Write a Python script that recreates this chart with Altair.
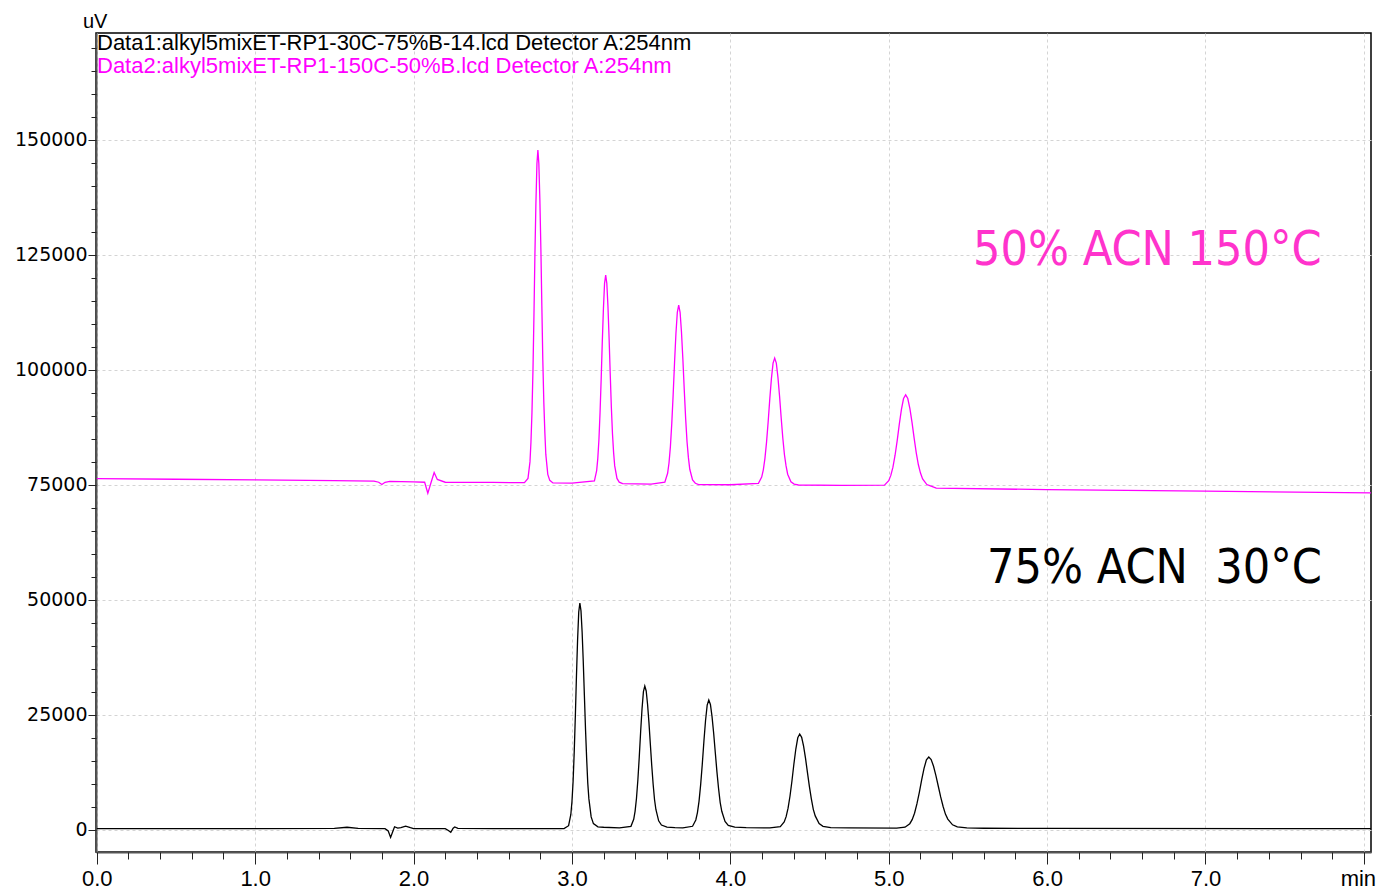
import altair as alt
import pandas as pd

# ---- data ----
# Data2 (magenta, 50% ACN 150 C): time (min), signal (uV)
t_mag = [0.0, 0.5, 1.0, 1.5, 1.75, 1.78, 1.80, 1.82, 1.85, 2.0, 2.07, 2.09, 2.11, 2.13, 2.15, 2.2, 2.5, 2.7,
         # peak 1
         2.7225, 2.735, 2.741, 2.7475, 2.754, 2.76, 2.766, 2.7725, 2.779, 2.785,
         2.791, 2.7975, 2.804, 2.81, 2.816, 2.8225, 2.829, 2.835, 2.8475, 2.86, 2.88, 3.0,
         # peak 2
         3.1418, 3.156, 3.1631, 3.1703, 3.1774, 3.1845, 3.1916, 3.1988, 3.2059, 3.213,
         3.2201, 3.2273, 3.2344, 3.2415, 3.2486, 3.2558, 3.2629, 3.27, 3.2843, 3.2985, 3.32, 3.5,
         # peak 3
         3.5865, 3.604, 3.6128, 3.6215, 3.6303, 3.639, 3.6478, 3.6565, 3.6653, 3.674,
         3.6828, 3.6915, 3.7003, 3.709, 3.7178, 3.7265, 3.7353, 3.744, 3.7615, 3.779, 3.80, 4.0,
         # peak 4
         4.1775, 4.198, 4.2083, 4.2185, 4.2288, 4.239, 4.2493, 4.2595, 4.2698, 4.28,
         4.2903, 4.3005, 4.3108, 4.321, 4.3313, 4.3415, 4.3518, 4.362, 4.3825, 4.403, 4.43, 4.7,
         # peak 5
         4.9733, 5.0, 5.0133, 5.0267, 5.0401, 5.0535, 5.0669, 5.0803, 5.0936, 5.107,
         5.1204, 5.1338, 5.1471, 5.1605, 5.1739, 5.1873, 5.2006, 5.214, 5.2408, 5.2675, 5.30,
         6.0, 7.0, 8.045]
v_mag = [76400, 76250, 76100, 75950, 75850, 75600, 75100, 75600, 75800, 75700, 75600, 73200, 75500, 77700, 76200, 75600, 75550, 75500,
         76440, 80020, 84180, 90680, 100080, 111650, 124660, 136230, 144910, 147800,
         144910, 136960, 126110, 113820, 102250, 92850, 86350, 81650, 77310, 76010, 75450, 75400,
         75890, 78130, 80740, 84820, 90720, 97980, 106140, 113390, 118840, 120650,
         118840, 113850, 107050, 99340, 92080, 86180, 82100, 79150, 76430, 75620, 75300, 75200,
         75610, 77540, 79780, 83290, 88360, 94600, 101620, 107860, 112540, 114100,
         112540, 108250, 102400, 95770, 89530, 84460, 80950, 78420, 76080, 75370, 75100, 75050,
         75360, 76730, 78310, 80800, 84380, 88800, 93770, 98180, 101500, 102600,
         101500, 98460, 94320, 89630, 85210, 81620, 79140, 77350, 75690, 75190, 75000, 74900,
         74960, 75940, 77090, 78880, 81470, 84650, 88230, 91420, 93800, 94600,
         93800, 91600, 88600, 85200, 82000, 79400, 77600, 76300, 75100, 74740, 74300,
         74000, 73650, 73300]

# Data1 (black, 75% ACN 30 C)
t_blk = [0.0, 1.0, 1.5, 1.58, 1.65, 1.82, 1.84, 1.855, 1.87, 1.88, 1.9, 1.92, 1.95, 1.98, 2.0, 2.2, 2.22, 2.235, 2.25, 2.26, 2.28, 2.5, 2.95,
         # peak 1
         2.9788, 2.993, 3.0001, 3.0073, 3.0144, 3.0215, 3.0286, 3.0358, 3.0429, 3.05,
         3.0571, 3.0643, 3.0714, 3.0785, 3.0856, 3.0928, 3.0999, 3.107, 3.1213, 3.1355, 3.164, 3.2, 3.3,
         # peak 2
         3.3725, 3.39, 3.3988, 3.4075, 3.4163, 3.425, 3.4338, 3.4425, 3.4513, 3.46,
         3.4688, 3.4775, 3.4863, 3.495, 3.5038, 3.5125, 3.5213, 3.53, 3.5475, 3.565, 3.60, 3.65, 3.70,
         # peak 3
         3.7615, 3.782, 3.7923, 3.8025, 3.8128, 3.823, 3.8333, 3.8435, 3.8538, 3.864,
         3.8743, 3.8845, 3.8948, 3.905, 3.9153, 3.9255, 3.9358, 3.946, 3.9665, 3.987, 4.028, 4.1, 4.25,
         # peak 4
         4.3155, 4.34, 4.3523, 4.3645, 4.3768, 4.389, 4.4013, 4.4135, 4.4258, 4.438,
         4.4503, 4.4625, 4.4748, 4.487, 4.4993, 4.5115, 4.5238, 4.536, 4.5605, 4.585, 4.634, 4.75, 5.05,
         # peak 5
         5.103, 5.133, 5.148, 5.163, 5.178, 5.193, 5.208, 5.223, 5.238, 5.253,
         5.268, 5.283, 5.298, 5.313, 5.328, 5.343, 5.358, 5.373, 5.403, 5.433, 5.493, 5.6,
         6.0, 8.045]
v_blk = [300, 300, 350, 600, 350, 300, -200, -1600, -200, 700, 400, 500, 850, 500, 300, 300, -100, -500, 400, 650, 350, 300, 300,
         940, 3370, 6190, 10600, 16980, 24830, 33650, 41500, 47390, 49350,
         47640, 42990, 36620, 29280, 21940, 15570, 10190, 6760, 2850, 1380, 690, 600, 450,
         800, 2330, 4110, 6890, 10910, 15850, 21410, 26360, 30060, 31300,
         30220, 27290, 23280, 18650, 14020, 10010, 6620, 4460, 1990, 1070, 640, 500, 450,
         810, 2190, 3790, 6290, 9910, 14360, 19360, 23810, 27150, 28260,
         27290, 24640, 21030, 16860, 12690, 9070, 6010, 4070, 1840, 1010, 620, 500, 450,
         720, 1730, 2900, 4740, 7390, 10660, 14340, 17600, 20050, 20870,
         20150, 18210, 15550, 12480, 9410, 6750, 4490, 3060, 1420, 810, 520, 450, 400,
         600, 1370, 2260, 3650, 5660, 8140, 10920, 13390, 15250, 15870,
         15330, 13850, 11830, 9510, 7180, 5160, 3450, 2370, 1130, 660, 440, 380,
         350, 300]

series_names = ["Data1", "Data2"]
series_colors = ["#000000", "#ff00ff"]

x_major = [0, 1, 2, 3, 4, 5, 6, 7, 8]
x_minor = [round(i * 0.2, 1) for i in range(41)]
y_major = [0, 25000, 50000, 75000, 100000, 125000, 150000]
y_minor = [i * 5000 for i in range(35)]

legend_lines = ["Data1:alkyl5mixET-RP1-30C-75%B-14.lcd Detector A:254nm",
                "Data2:alkyl5mixET-RP1-150C-50%B.lcd Detector A:254nm"]
anno_top = "50% ACN 150°C"
anno_bot = "75% ACN\u00a0 30°C"
y_unit = "uV"

df = pd.concat([
    pd.DataFrame({"t": t_blk, "v": v_blk, "s": "Data1"}),
    pd.DataFrame({"t": t_mag, "v": v_mag, "s": "Data2"}),
], ignore_index=True)

W, H = 1275, 819
xscale = alt.Scale(domain=[-0.005, 8.045], nice=False, zero=False)
yscale = alt.Scale(domain=[-4783, 173260], nice=False, zero=False)
cscale = alt.Scale(domain=series_names, range=series_colors)

x_axis = alt.Axis(values=x_major, title=None, grid=True, gridColor="#d4d4d4", gridDash=[3, 3],
                  orient="bottom",
                  labelExpr="datum.value >= 7.99 ? 'min' : format(datum.value, '.1f')",
                  labelOffset={"condition": {"test": "datum.value >= 7.99", "value": -6}, "value": 0},
                  labelFont="Liberation Sans", labelFontSize=22, labelColor="#000",
                  labelPadding=4, tickSize=12, tickColor="#222", tickWidth=1,
                  domainColor="#555", domainWidth=2, labelFlush=False, labelOverlap=False)
y_axis = alt.Axis(values=y_major, title=None, grid=True, gridColor="#d4d4d4", gridDash=[3, 3],
                  orient="left",
                  format="d", labelFont="DejaVu Sans", labelFontSize=19, labelColor="#000",
                  labelPadding=1, tickSize=8, tickColor="#222", tickWidth=1,
                  domainColor="#555", domainWidth=2, labelFlush=False, labelOverlap=False)

lines = alt.Chart(df).mark_line(strokeWidth=1.3, interpolate="linear").encode(
    x=alt.X("t:Q", scale=xscale, axis=x_axis),
    y=alt.Y("v:Q", scale=yscale, axis=y_axis),
    color=alt.Color("s:N", scale=cscale, legend=None),
    detail="s:N",
)

minor = alt.Chart(df).mark_line(opacity=0).encode(
    x=alt.X("t:Q", scale=xscale, axis=alt.Axis(values=x_minor, orient="bottom", labels=False, grid=False,
                                                   domain=False, tickSize=7, tickColor="#222", title=None)),
    y=alt.Y("v:Q", scale=yscale, axis=alt.Axis(values=y_minor, orient="left", labels=False, grid=False,
                                                   domain=False, tickSize=5, tickColor="#222", title=None)),
    detail="s:N",
)

leg1 = alt.Chart(pd.DataFrame({"label": [legend_lines[0]]})).mark_text(
    align="left", baseline="alphabetic", font="Liberation Sans", fontSize=22, color="#000"
).encode(x=alt.value(1), y=alt.value(17), text="label:N")
leg2 = alt.Chart(pd.DataFrame({"label": [legend_lines[1]]})).mark_text(
    align="left", baseline="alphabetic", font="Liberation Sans", fontSize=22, color="#ff00ff"
).encode(x=alt.value(1), y=alt.value(40), text="label:N")
unit = alt.Chart(pd.DataFrame({"label": [y_unit]})).mark_text(
    align="left", baseline="alphabetic", font="Liberation Sans", fontSize=20, color="#000"
).encode(x=alt.value(-13), y=alt.value(-5), text="label:N")
a1 = alt.Chart(pd.DataFrame({"label": [anno_top]})).mark_text(
    align="left", baseline="alphabetic", font="DejaVu Sans Condensed, Open Sans", fontSize=48, color="#ff33cc"
).encode(x=alt.value(877), y=alt.value(232), text="label:N")
a2 = alt.Chart(pd.DataFrame({"label": [anno_bot]})).mark_text(
    align="left", baseline="alphabetic", font="DejaVu Sans Condensed, Open Sans", fontSize=48, color="#000"
).encode(x=alt.value(891), y=alt.value(550), text="label:N")

chart = alt.layer(lines, minor, leg1, leg2, unit, a1, a2).resolve_axis(
    x="independent", y="independent"
).properties(
    width=W, height=H,
    autosize=alt.AutoSizeParams(type="none"),
    padding={"left": 96, "top": 33, "right": 8, "bottom": 37},
    background="white",
).configure_view(stroke="#000", strokeWidth=1.5)

chart.save("out.html", embed_options={"renderer": "svg", "actions": False})
